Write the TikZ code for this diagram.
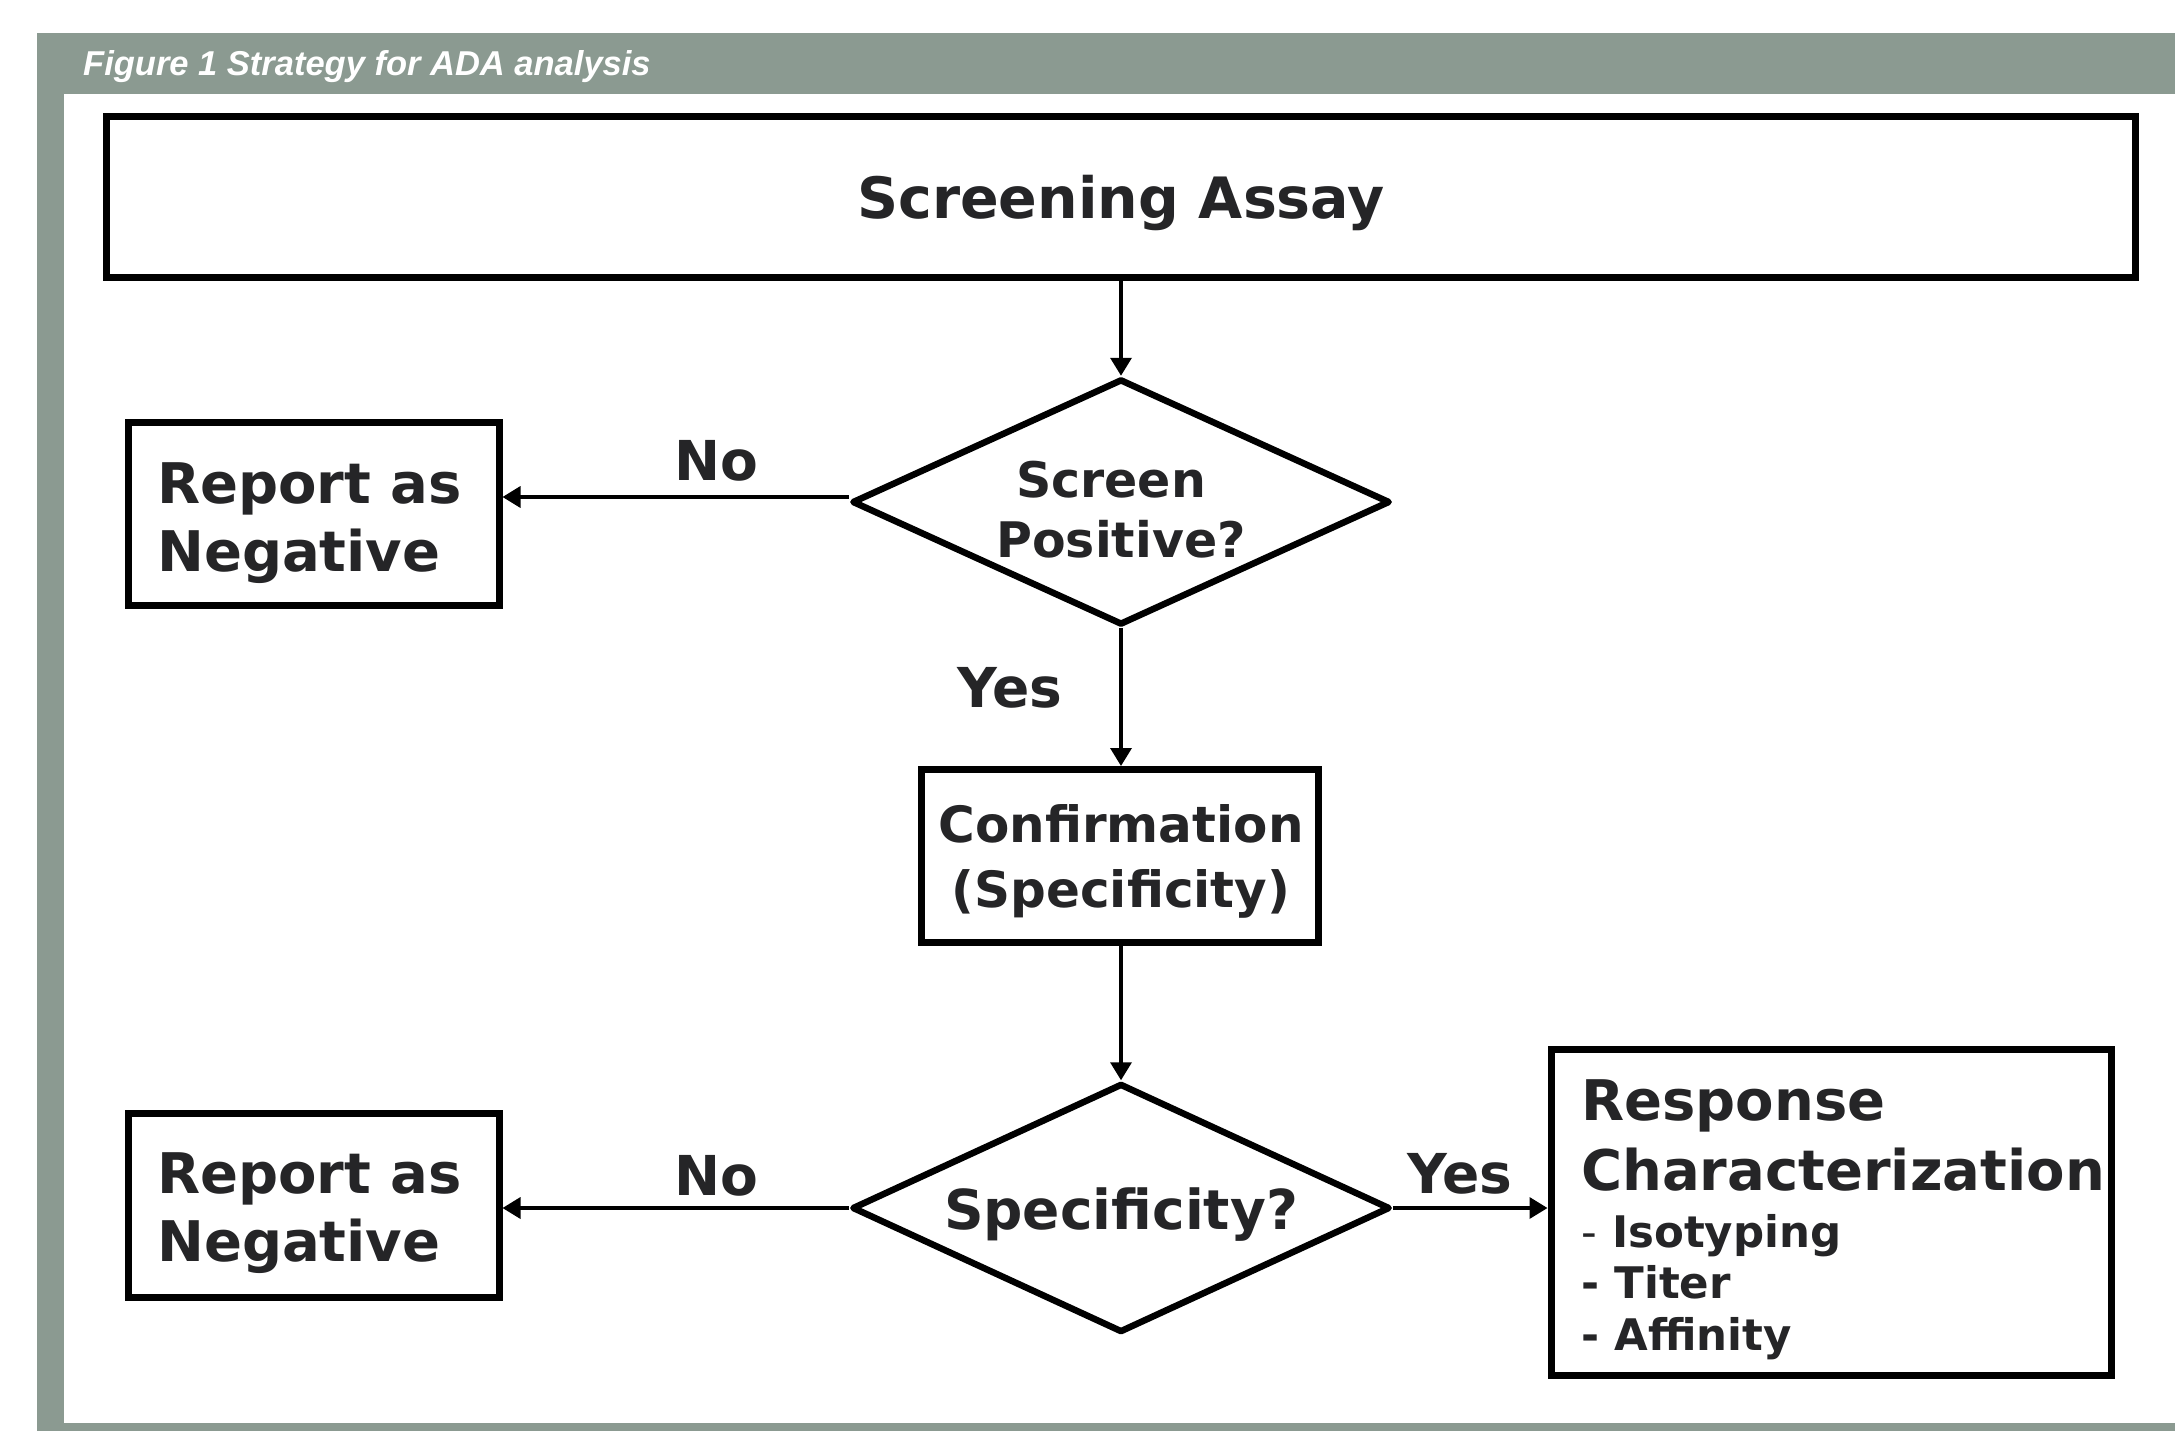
\documentclass[tikz,border=0pt]{standalone}
\usepackage{fontspec}
\setmainfont{DejaVu Sans}
\newfontfamily\titlefont{Liberation Sans}
\usetikzlibrary{shapes.geometric,arrows.meta}
\definecolor{framegray}{RGB}{139,154,145}
\definecolor{ink}{RGB}{37,37,39}
\newcommand\myfs[1]{\fontsize{#1}{#1}\selectfont}
\begin{document}
\begin{tikzpicture}[x=1pt,y=-1pt,
  boxnode/.style={draw=black, line width=7pt, fill=white, rectangle, inner sep=0pt},
  decision/.style={draw=black, line width=6.5pt, diamond, inner sep=0pt, line join=round,
                   minimum width=538pt, minimum height=246pt},
  arr/.style={draw=black, line width=3.5pt, -{Triangle[length=18pt,width=21pt]}},
  txt/.style={text=ink, inner sep=0pt},
  big/.style={txt, font=\bfseries\myfs{56}},
  mid/.style={txt, font=\bfseries\myfs{49}},
  lbl/.style={txt, font=\bfseries\myfs{55}},
  small/.style={txt, font=\bfseries\myfs{43.5}}]
\useasboundingbox (0,0) rectangle (2175,1431);
% frame
\fill[white] (0,0) rectangle (2175,1431);
\fill[framegray] (37,33) rectangle (2175,1431);
\fill[white] (64,94) rectangle (2175,1423);
\node[anchor=base west, inner sep=0pt, text=white,
      font={\titlefont\bfseries\itshape\myfs{34.5}}] (title) at (83,76) {Figure 1 Strategy for ADA analysis};
% boxes
\node[boxnode, minimum width=2029pt, minimum height=161pt] (scr) at (1121,197) {};
\node[decision] (d1) at (1121,502) {};
\node[boxnode, minimum width=371pt, minimum height=183pt] (rep1) at (313.5,514) {};
\node[boxnode, minimum width=397pt, minimum height=173pt] (conf) at (1120,856) {};
\node[decision, minimum height=249pt] (d2) at (1121,1208) {};
\node[boxnode, minimum width=371pt, minimum height=184pt] (rep2) at (313.5,1205.5) {};
\node[boxnode, minimum width=560pt, minimum height=326pt] (resp) at (1831,1212.5) {};
% texts
\node[txt, font=\bfseries\myfs{57}, anchor=base] (tscr) at (1121,219) {Screening Assay};
\node[mid, anchor=base] (td1a) at (1111,497) {Screen};
\node[mid, anchor=base] (td1b) at (1121,557) {Positive?};
\node[big, anchor=base west] (tr1a) at (157,503) {Report as};
\node[big, anchor=base west] (tr1b) at (157,571) {Negative};
\node[lbl, anchor=base] (no1) at (716,480) {No};
\node[lbl, anchor=base] (yes1) at (1010,707) {Yes};
\node[txt, font=\bfseries\myfs{50}, anchor=base] (tconfa) at (1121,842) {Confirmation};
\node[txt, font=\bfseries\myfs{50}, anchor=base] (tconfb) at (1121,907) {(Specificity)};
\node[lbl, anchor=base] (td2) at (1121,1229) {Specificity?};
\node[big, anchor=base west] (tr2a) at (157,1193) {Report as};
\node[big, anchor=base west] (tr2b) at (157,1261) {Negative};
\node[lbl, anchor=base] (no2) at (716,1195) {No};
\node[lbl, anchor=base] (yes2) at (1460,1193) {Yes};
\node[txt, font=\bfseries\myfs{56}, anchor=base west] (tresa) at (1581,1120) {Response};
\node[txt, font=\bfseries\myfs{56}, anchor=base west] (tresb) at (1581,1190) {Characterization};
\node[small, anchor=base west] (tresc) at (1581,1247) {{\mdseries -} Isotyping};
\node[small, anchor=base west] (tresd) at (1581,1298) {- Titer};
\node[small, anchor=base west] (trese) at (1581,1350) {- Affinity};
% connectors
\draw[arr] (scr.south -| d1.north) -- (d1.north);
\draw[arr] ([yshift=5pt]d1.west) -- ([yshift=5pt]d1.west -| rep1.east);
\draw[arr] (d1.south) -- (d1.south |- conf.north);
\draw[arr] (d2.north |- conf.south) -- (d2.north);
\draw[arr] (d2.west) -- (d2.west -| rep2.east);
\draw[arr] (d2.east) -- (d2.east -| resp.west);
\end{tikzpicture}
\end{document}
